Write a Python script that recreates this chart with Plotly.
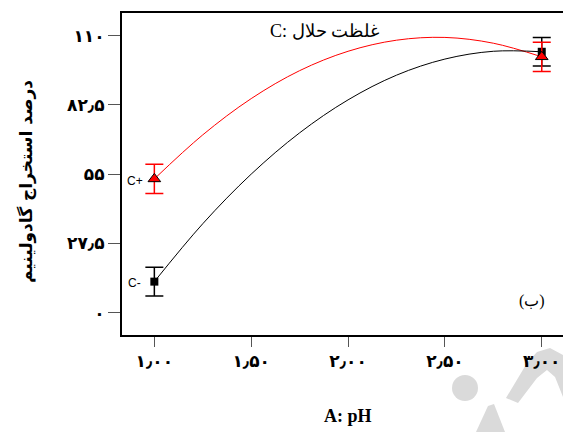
import plotly.graph_objects as go

# ---- data ----
ph_points = [1.0, 3.0]
c_minus_vals = [12.3, 103.6]
c_plus_vals = [53.1, 101.6]
c_minus_err = [5.7, 5.7]
c_plus_err = [5.8, 5.8]

curve_x = [1.0, 1.25, 1.5, 1.75, 2.0, 2.25, 2.5, 2.75, 3.0]
curve_minus = [12.3, 35.3, 55.0, 71.4, 84.5, 94.3, 100.7, 103.8, 103.6]
curve_plus = [53.1, 70.6, 85.0, 96.1, 103.8, 108.2, 109.3, 107.0, 101.6]

x_tickvals = [1.0, 1.5, 2.0, 2.5, 3.0]
x_ticktext = ["۱٫۰۰", "۱٫۵۰", "۲٫۰۰", "۲٫۵۰", "۳٫۰۰"]
y_tickvals = [0, 27.5, 55, 82.5, 110]
y_ticktext = ["۰", "۲۷٫۵", "۵۵", "۸۲٫۵", "۱۱۰"]

OFF = 8  # page body margin
W, H = 571 - OFF, 432 - OFF
L, R, T, B = 122 - OFF, 0, 13 - OFF, 97
PW, PH = W - L - R, H - T - B

def px(x):
    return (x - OFF - L) / PW

def py(y):
    return (H - B - (y - OFF)) / PH

fig = go.Figure()

fig.add_trace(go.Scatter(x=curve_x, y=curve_plus, mode="lines",
                         line=dict(color="red", width=1, shape="spline"),
                         hoverinfo="skip", showlegend=False))
fig.add_trace(go.Scatter(x=curve_x, y=curve_minus, mode="lines",
                         line=dict(color="black", width=1, shape="spline"),
                         hoverinfo="skip", showlegend=False))

fig.add_trace(go.Scatter(x=ph_points, y=c_minus_vals, mode="markers",
                         marker=dict(symbol="square", size=8, color="black"),
                         error_y=dict(type="data", array=c_minus_err, visible=True,
                                      color="black", thickness=1.5, width=9),
                         showlegend=False))
fig.add_trace(go.Scatter(x=ph_points, y=c_plus_vals, mode="markers",
                         marker=dict(symbol="triangle-up", size=11, color="red",
                                     line=dict(color="black", width=1)),
                         error_y=dict(type="data", array=c_plus_err, visible=True,
                                      color="red", thickness=1.5, width=9),
                         showlegend=False))

# watermark shapes (decoration)
wm = "#dadada"
fig.add_shape(type="circle", xref="paper", yref="paper",
              x0=px(452), x1=px(478), y0=py(401), y1=py(375),
              fillcolor=wm, line=dict(width=0), layer="below")

def path(pts):
    return "M " + " L ".join(f"{px(a):.4f},{py(b):.4f}" for a, b in pts) + " Z"

fig.add_shape(type="path", xref="paper", yref="paper",
              path=path([(476, 432), (488, 406), (494, 404), (505, 432)]),
              fillcolor=wm, line=dict(width=0), layer="below")
fig.add_shape(type="path", xref="paper", yref="paper",
              path=path([(506, 398), (518, 403), (537, 378), (547, 370), (555, 377),
                         (563, 397), (571, 420), (571, 370), (563, 355), (550, 348),
                         (537, 352), (527, 363)]),
              fillcolor=wm, line=dict(width=0), layer="below")

tickfont = dict(family="DejaVu Sans", size=17, color="black")

fig.update_layout(
    width=W, height=H,
    margin=dict(l=L, r=R, t=T, b=B, pad=0),
    plot_bgcolor="white", paper_bgcolor="white",
    xaxis=dict(range=[0.833, 3.151], tickvals=x_tickvals,
               ticktext=[f"<b>{t}</b>" for t in x_ticktext],
               ticks="outside", ticklen=10, tickcolor="#555", tickwidth=1,
               showline=True, linecolor="black", linewidth=2, mirror=True,
               showgrid=False, zeroline=False, tickfont=tickfont),
    yaxis=dict(range=[-8.9, 119.0], tickvals=y_tickvals,
               ticktext=[f"<b>{t}</b>" for t in y_ticktext],
               ticks="outside", ticklen=12, tickcolor="#555", tickwidth=1,
               showline=True, linecolor="black", linewidth=2, mirror=False,
               showgrid=False, zeroline=False, tickfont=tickfont),
    font=dict(family="DejaVu Sans", color="black"),
)

def ann(text, x, y, size, family, **kw):
    fig.add_annotation(text=text, x=px(x), xref="paper", y=py(y), yref="paper",
                       xanchor="center", yanchor="middle", showarrow=False,
                       font=dict(family=family, size=size, color="black"), **kw)

ann("<b>A: pH</b>", 348, 416, 18, "Liberation Serif")
ann("<b>درصد استخراج گادولینیم</b>", 26, 182, 17, "DejaVu Sans", textangle=-90)
ann("C: غلظت حلال", 324, 31, 18, "Liberation Serif")
ann("(ب)", 532, 301, 16, "Liberation Serif")
ann("C+", 134.5, 181, 12, "Liberation Sans")
ann("C-", 134.5, 283, 12, "Liberation Sans")

fig.write_html("out.html")
